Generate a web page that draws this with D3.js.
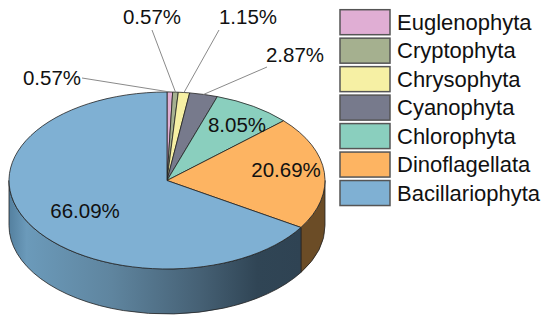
<!DOCTYPE html>
<html>
<head>
<meta charset="utf-8">
<script src="https://cdn.jsdelivr.net/npm/d3@7"></script>
<style>
    html, body { margin: 0; padding: 0; background: #fff; }
    svg { display: block; }
    text { font-family: "Liberation Sans", Arial, sans-serif; font-size: 20.5px; fill: #111; }
    .legend-label { font-size: 22px; }
</style>
</head>
<body>
<div id="chart"></div>
<script>
// Chart data, clockwise from twelve o'clock
const categories = ["Euglenophyta", "Cryptophyta", "Chrysophyta", "Cyanophyta", "Chlorophyta", "Dinoflagellata", "Bacillariophyta"];
const values = [0.57, 0.57, 1.15, 2.87, 8.05, 20.69, 66.09];
const labels = ["0.57%", "0.57%", "1.15%", "2.87%", "8.05%", "20.69%", "66.09%"];
const colors = ["#e0aed4", "#a5b08f", "#f6f0a4", "#777a8c", "#8acfbe", "#fdb462", "#7fb0d3"];
const sideColors = ["#6f5569", "#525847", "#7b7852", "#3b3d46", "#45675f", "#6b4c26", "url(#sideBlue)"];

const width = 550;
const height = 323;
const depth = 45;

// The tilted disc is a unit circle mapped on to an ellipse
const xScale = d3.scaleLinear().domain([-1, 1]).range([9, 325]);
const yScale = d3.scaleLinear().domain([-1, 1]).range([269, 92]);
const rx = (xScale(1) - xScale(-1)) / 2;
const ry = (yScale(-1) - yScale(1)) / 2;

const px = (a) => xScale(Math.sin(a));
const py = (a) => yScale(Math.cos(a));

const svg = d3.select("#chart").append("svg")
    .attr("width", width)
    .attr("height", height)
    .attr("viewBox", `0 0 ${width} ${height}`);

// Shading of the front wall
const gradient = svg.append("defs").append("linearGradient")
    .attr("id", "sideBlue")
    .attr("gradientUnits", "userSpaceOnUse")
    .attr("x1", xScale(-1)).attr("x2", 301)
    .attr("y1", 0).attr("y2", 0);
[[0, "#54809f"], [0.06, "#6b9aba"], [0.35, "#5f859f"], [0.65, "#466175"], [0.85, "#304555"], [1, "#2f4353"]]
    .forEach(([o, c]) => gradient.append("stop").attr("offset", o).attr("stop-color", c));

const pie = d3.pie().sort(null).value((d) => d)(values);

// Front wall, only the part of each slice between 90 and 270 degrees shows
const sideGroup = svg.append("g");
pie.forEach((d, i) => {
    const a0 = Math.max(d.startAngle, Math.PI / 2);
    const a1 = Math.min(d.endAngle, Math.PI * 1.5);
    if (a1 <= a0) return;
    sideGroup.append("path")
        .attr("d", `M${px(a0)},${py(a0)}A${rx},${ry} 0 0 1 ${px(a1)},${py(a1)}`
            + `L${px(a1)},${py(a1) + depth}A${rx},${ry} 0 0 0 ${px(a0)},${py(a0) + depth}Z`)
        .attr("fill", sideColors[i])
        .attr("stroke", "#222")
        .attr("stroke-width", 0.8);
});

// Top of the disc
svg.append("g").selectAll("path")
    .data(pie)
    .enter()
    .append("path")
    .attr("d", (d) => {
        const large = d.endAngle - d.startAngle > Math.PI ? 1 : 0;
        return `M${xScale(0)},${yScale(0)}L${px(d.startAngle)},${py(d.startAngle)}`
            + `A${rx},${ry} 0 ${large} 1 ${px(d.endAngle)},${py(d.endAngle)}Z`;
    })
    .attr("fill", (d, i) => colors[i])
    .attr("stroke", "#222")
    .attr("stroke-width", 0.8);

// Leader lines run from the rim out to the label (index of slice, elbow x, y)
const leaders = [
    { i: 0, x: 82, y: 78 },
    { i: 1, x: 152, y: 30 },
    { i: 2, x: 219, y: 30 },
    { i: 3, x: 267, y: 67 },
];
svg.append("g").selectAll("line")
    .data(leaders)
    .enter()
    .append("line")
    .attr("x1", (d) => d.x)
    .attr("y1", (d) => d.y)
    .attr("x2", (d) => px((pie[d.i].startAngle + pie[d.i].endAngle) / 2))
    .attr("y2", (d) => py((pie[d.i].startAngle + pie[d.i].endAngle) / 2))
    .attr("stroke", "#8a8a8a")
    .attr("stroke-width", 1);

// Value labels, centred
const labelPos = [[52, 78], [152, 17], [248, 17], [295, 55], [237, 125], [286, 170], [85, 211]];
svg.append("g").selectAll("text")
    .data(labels)
    .enter()
    .append("text")
    .attr("x", (d, i) => labelPos[i][0])
    .attr("y", (d, i) => labelPos[i][1])
    .attr("dy", "0.35em")
    .attr("text-anchor", "middle")
    .text((d) => d);

// Legend
const legendY = d3.scaleBand().domain(categories).range([9.7, 209]);
const legend = svg.append("g").selectAll("g")
    .data(categories)
    .enter()
    .append("g")
    .attr("transform", (d) => `translate(340,${legendY(d)})`);
legend.append("rect")
    .attr("width", 50)
    .attr("height", 25)
    .attr("fill", (d, i) => colors[i])
    .attr("stroke", "#555")
    .attr("stroke-width", 1.5);
legend.append("text")
    .attr("class", "legend-label")
    .attr("x", 57)
    .attr("y", 12.5)
    .attr("dy", "0.35em")
    .text((d) => d);
</script>
</body>
</html>
